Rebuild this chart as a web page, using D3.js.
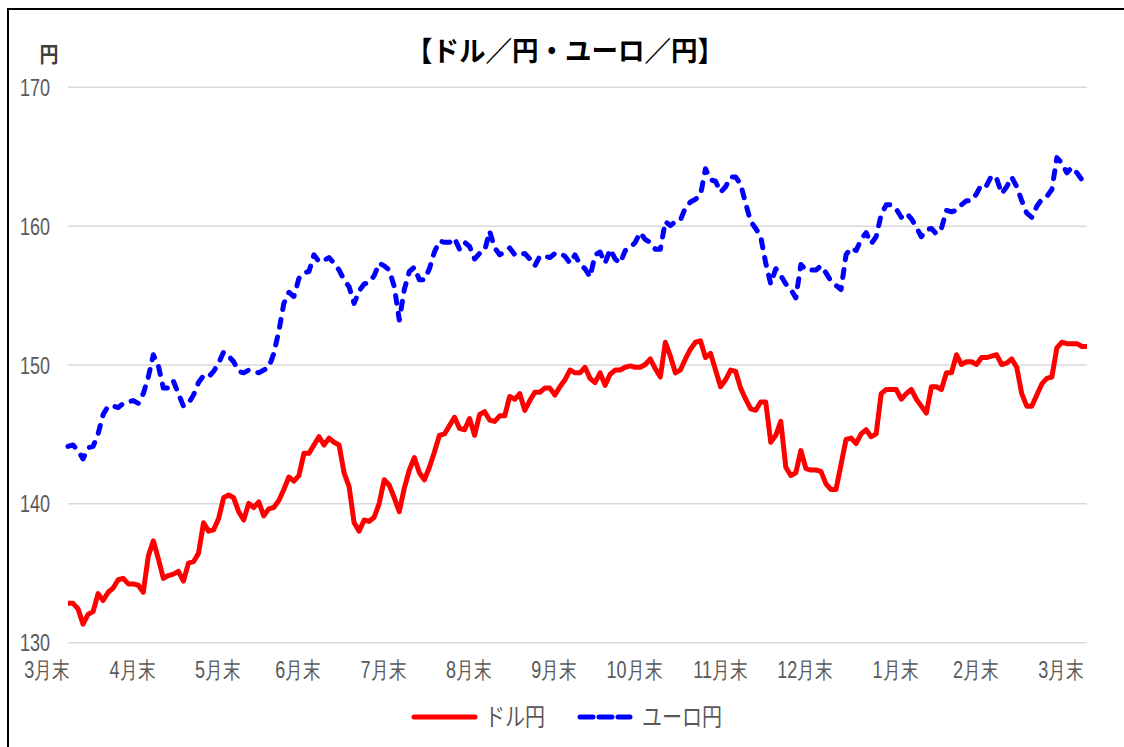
<!DOCTYPE html>
<html>
<head>
<meta charset="utf-8">
<script src="https://cdn.jsdelivr.net/npm/d3@7"></script>
<style>
  body { margin: 0; background: #fff; }
  svg { display: block; font-family: "Noto Sans CJK JP", "Noto Sans", sans-serif; }
</style>
</head>
<body>
<svg id="chart" width="1124" height="747"></svg>
<script>
// ドル円 (solid red), ~5px steps across the year
var usdJpy = [
	132.8, 132.8, 132.4, 131.3, 132.0, 132.2, 133.5, 133.0, 133.6, 133.9,
	134.5, 134.6, 134.2, 134.2, 134.1, 133.6, 136.2, 137.3, 136.0, 134.6,
	134.8, 134.9, 135.1, 134.4, 135.7, 135.8, 136.4, 138.6, 138.0, 138.1,
	138.9, 140.4, 140.6, 140.4, 139.4, 138.8, 140.0, 139.7, 140.1, 139.1,
	139.6, 139.7, 140.2, 141.0, 141.9, 141.6, 142.0, 143.6, 143.6, 144.2, 144.8,
	144.2, 144.7, 144.4, 144.2, 142.2, 141.2, 138.6, 138.0, 138.8, 138.7,
	139.0, 140.0, 141.7, 141.3, 140.4, 139.4, 141.1, 142.4, 143.3, 142.2,
	141.7, 142.6, 143.7, 144.9, 145.0, 145.6, 146.2, 145.4, 145.3, 146.1,
	144.9, 146.4, 146.6, 146.0, 145.9, 146.3, 146.3, 147.7, 147.5, 147.9,
	146.7, 147.4, 148.0, 148.0, 148.3, 148.3, 147.8, 148.4, 148.9, 149.6, 149.4,
	149.4, 149.8, 149.0, 148.7, 149.4, 148.5, 149.3, 149.6, 149.6, 149.8,
	149.9, 149.8, 149.8, 150.0, 150.4, 149.7, 149.1, 151.6, 150.6, 149.4,
	149.6, 150.4, 151.1, 151.6, 151.7, 150.5, 150.8, 149.6, 148.4, 148.9,
	149.6, 149.5, 148.3, 147.5, 146.8, 146.7, 147.3, 147.3, 144.4, 144.9,
	145.9, 142.6, 142.0, 142.2, 143.8, 142.5, 142.4, 142.4, 142.3, 141.4, 141.0,
	141.0, 142.8, 144.6, 144.7, 144.3, 145.0, 145.3, 144.8, 145.0, 147.9,
	148.2, 148.2, 148.2, 147.5, 147.9, 148.2, 147.5, 147.0, 146.5, 148.4,
	148.4, 148.2, 149.4, 149.4, 150.7, 150.0, 150.2, 150.2, 150.0, 150.5,
	150.5, 150.6, 150.7, 150.0, 150.1, 150.4, 149.8, 147.9, 147.0, 147.0,
	147.8, 148.6, 149.0, 149.1, 151.2, 151.6, 151.5, 151.5, 151.5, 151.3, 151.3
];

// ユーロ円 (dashed blue)
var eurJpy = [
	144.1, 144.2, 143.8, 143.2, 144.0, 144.1, 145.0, 146.4, 147.0, 147.0,
	146.9, 147.2, 147.3, 147.4, 147.2, 147.9, 149.1, 150.7, 149.9, 148.3,
	148.3, 148.8, 147.9, 147.0, 147.2, 147.8, 148.7, 149.2, 149.1, 149.5,
	150.1, 150.9, 150.6, 150.2, 149.5, 149.4, 149.6, 149.5, 149.4, 149.6,
	149.8, 150.8, 152.4, 154.4, 155.2, 154.9, 156.2, 156.6, 156.7, 157.9, 157.4,
	157.5, 157.7, 157.3, 156.8, 156.1, 155.6, 154.4, 155.3, 155.8, 155.9,
	156.4, 157.3, 157.1, 156.8, 155.6, 153.2, 155.4, 156.7, 157.0, 156.1,
	156.1, 156.9, 158.1, 158.9, 158.8, 158.8, 159.1, 158.3, 158.8, 158.5,
	157.6, 158.0, 158.2, 159.6, 158.4, 157.9, 158.1, 158.4, 157.9, 157.9,
	158.0, 157.6, 157.1, 157.8, 157.8, 157.7, 158.0, 158.0, 157.8, 157.3, 157.9,
	157.2, 156.9, 156.3, 157.9, 158.1, 157.3, 158.3, 157.6, 157.3, 158.2,
	158.4, 158.8, 159.5, 159.0, 158.8, 158.3, 158.3, 160.3, 160.0, 160.3,
	160.4, 161.3, 161.7, 161.9, 162.2, 164.1, 163.3, 163.2, 162.4, 162.8,
	163.5, 163.5, 163.0, 161.6, 160.3, 159.8, 159.2, 157.3, 155.8, 156.9,
	156.4, 155.8, 155.4, 154.8, 157.2, 156.8, 156.8, 156.8, 157.1, 156.6, 156.0,
	155.7, 155.4, 157.9, 158.4, 158.2, 159.0, 159.5, 158.7, 159.2, 160.8,
	161.5, 161.5, 161.2, 160.6, 160.9, 160.5, 159.9, 159.2, 159.7, 159.8,
	159.4, 159.8, 161.1, 161.0, 161.1, 161.5, 161.8, 161.8, 162.3, 163.0,
	162.9, 163.6, 163.4, 162.3, 162.8, 163.5, 162.8, 161.8, 160.9, 160.6,
	161.4, 161.9, 162.1, 162.6, 164.9, 164.5, 163.8, 164.2, 163.8, 163.3, 163.3
];

var monthLabels = ['3月末', '4月末', '5月末', '6月末', '7月末', '8月末', '9月末',
	'10月末', '11月末', '12月末', '1月末', '2月末', '3月末'];
var monthIdx = [0, 17, 34, 50, 67, 84, 101, 118, 135, 152, 169, 185, 202];
var yTicks = [130, 140, 150, 160, 170];
var seriesNames = ['ドル円', 'ユーロ円'];

var svg = d3.select('#chart');
// NOTE: don't call these top/left etc, window.top is read-only
var plotL = 68, plotR = 1087, plotT = 86.8, plotB = 642.2;

// outer frame (runs off the right/bottom edge like the source)
svg.append('rect')
	.attr('x', 8).attr('y', 9)
	.attr('width', 1200).attr('height', 800)
	.attr('fill', 'none')
	.attr('stroke', '#000')
	.attr('stroke-width', 2);

var x = d3.scaleLinear().domain([0, usdJpy.length - 1]).range([plotL, plotR]);
var y = d3.scaleLinear().domain([130, 170]).range([plotB, plotT]);

//gridlines + y labels
var yAxis = svg.append('g')
	.attr('transform', `translate(${plotL},0)`)
	.call(d3.axisLeft(y).tickValues(yTicks).tickSize(-(plotR - plotL)).tickPadding(0));
yAxis.select('.domain').remove();
yAxis.selectAll('line').attr('stroke', '#d9d9d9').attr('stroke-width', 1.5);
yAxis.selectAll('text')
	.attr('x', 0).attr('dy', null)
	.attr('transform', 'translate(-18,8.5) scale(1,1.35)')
	.attr('fill', '#595959')
	.style('font-size', '18px');

var xAxis = svg.append('g')
	.attr('transform', `translate(0,${plotB})`)
	.call(d3.axisBottom(x).tickValues(monthIdx).tickSize(0)
		.tickFormat((d, i) => monthLabels[i]));
xAxis.select('.domain').remove();
xAxis.selectAll('text')
	.attr('y', 0).attr('dy', null)
	.attr('text-anchor', 'end')
	.attr('transform', 'translate(2,36) scale(1,1.3)')
	.attr('fill', '#595959')
	.style('font-size', '18px');

var line = d3.line()
	.x((d, i) => x(i))
	.y(d => y(d));

svg.append('path')
	.datum(eurJpy)
	.attr('d', line)
	.attr('fill', 'none')
	.attr('stroke', '#0000ff')
	.attr('stroke-width', 5)
	.attr('stroke-linecap', 'round')
	.attr('stroke-linejoin', 'round')
	.attr('stroke-dasharray', '8,10');

svg.append('path')
	.datum(usdJpy)
	.attr('d', line)
	.attr('fill', 'none')
	.attr('stroke', '#ff0000')
	.attr('stroke-width', 5)
	.attr('stroke-linejoin', 'round');

// title + unit
svg.append('text')
	.attr('transform', 'translate(565,61) scale(1,1.05)')
	.attr('text-anchor', 'middle')
	.style('font-size', '26.5px')
	.style('font-weight', 'bold')
	.attr('fill', '#000')
	.text('【ドル／円・ユーロ／円】');

svg.append('text')
	.attr('transform', 'translate(49,62) scale(1,1.15)')
	.attr('text-anchor', 'middle')
	.style('font-size', '19px')
	.style('font-weight', 'bold')
	.attr('fill', '#404040')
	.text('円');

// legend
var legendY = 717;
svg.append('line')
	.attr('x1', 414).attr('x2', 475)
	.attr('y1', legendY).attr('y2', legendY)
	.attr('stroke', '#ff0000').attr('stroke-width', 5).attr('stroke-linecap', 'round');
svg.append('line')
	.attr('x1', 580).attr('x2', 630)
	.attr('y1', legendY).attr('y2', legendY)
	.attr('stroke', '#0000ff').attr('stroke-width', 5).attr('stroke-linecap', 'round')
	.attr('stroke-dasharray', '13,6');
svg.selectAll('.legtext')
	.data(seriesNames)
	.enter().append('text')
	.attr('class', 'legtext')
	.attr('transform', (d, i) => `translate(${i ? 642 : 485},${legendY + 9}) scale(1,1.25)`)
	.style('font-size', '20px')
	.attr('fill', '#595959')
	.text(d => d);
</script>
</body>
</html>
